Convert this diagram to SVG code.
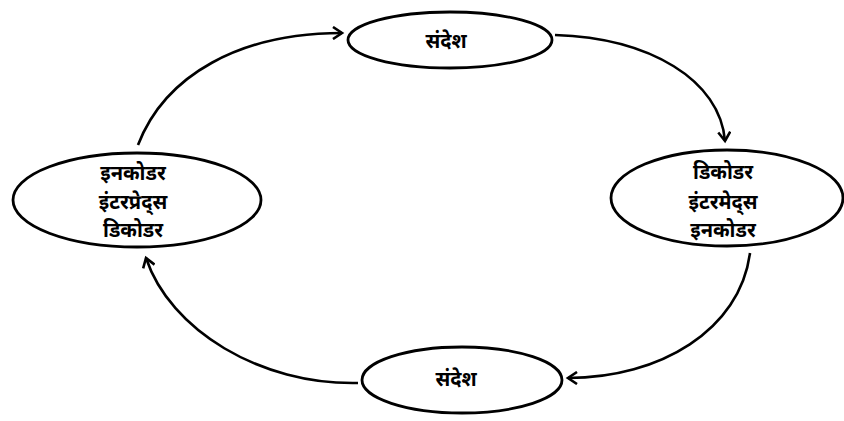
<svg xmlns="http://www.w3.org/2000/svg" width="844" height="421" viewBox="0 0 844 421">
<style>
.node ellipse{fill:#fff;stroke:#000;stroke-width:2.8}
.node text{font-family:"Noto Sans Devanagari","Noto Sans","DejaVu Sans",sans-serif;font-size:20px;font-weight:bold;fill:#000;text-anchor:middle}
.edge{fill:none;stroke:#000;stroke-width:2.6;marker-end:url(#arr)}
</style>
<defs>
<marker id="arr" markerWidth="14" markerHeight="14" refX="11" refY="7" orient="auto" markerUnits="userSpaceOnUse">
<polyline points="2,1 11,7 2,13" fill="none" stroke="#000" stroke-width="2.6"/>
</marker>
</defs>
<rect width="844" height="421" fill="#fff"/>
<g id="connectors">
<path class="edge" d="M138,145 C165,75 240,33 342,33"/>
<path class="edge" d="M555,35 C650,38 720,80 725,141"/>
<path class="edge" d="M750,253 C740,330 660,378 568,378"/>
<path class="edge" d="M358,383 C260,385 170,330 146,258"/>
</g>
<g id="top" class="node">
<ellipse cx="450" cy="40" rx="102" ry="28"/>
<text x="446" y="48">संदेश</text>
</g>
<g id="left" class="node">
<ellipse cx="137" cy="200" rx="124" ry="47"/>
<text x="133" y="180">इनकोडर</text>
<text x="133" y="209">इंटरप्रेद्स</text>
<text x="133" y="237">डिकोडर</text>
</g>
<g id="right" class="node">
<ellipse cx="727" cy="198" rx="116" ry="48"/>
<text x="723" y="179">डिकोडर</text>
<text x="723" y="209">इंटरमेद्स</text>
<text x="723" y="237">इनकोडर</text>
</g>
<g id="bottom" class="node">
<ellipse cx="462" cy="380" rx="100" ry="33"/>
<text x="456" y="386">संदेश</text>
</g>
</svg>
